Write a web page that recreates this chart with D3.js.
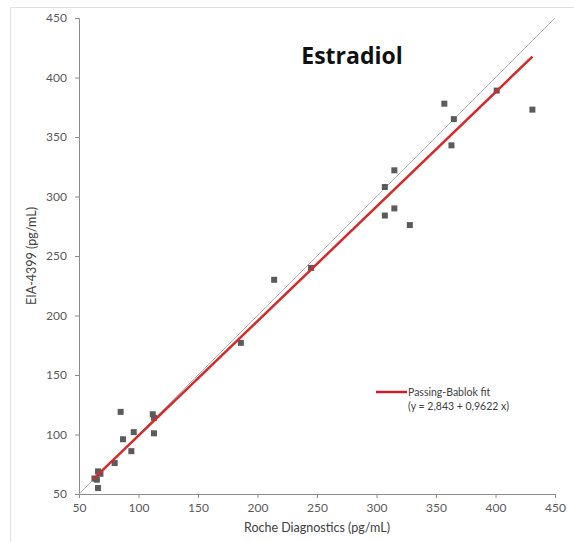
<!doctype html>
<html>
<head>
<meta charset="utf-8">
<title>Estradiol</title>
<style>
  body { margin: 0; background: #fff; }
  svg { display: block; font-family: Lato, "Open Sans", sans-serif; }
</style>
</head>
<body>
<svg width="574" height="542"></svg>
<script src="https://cdn.jsdelivr.net/npm/d3@7"></script>
<script>
// Roche Diagnostics (x) vs EIA-4399 (y), pg/mL
var rocheValues = [85, 112, 113, 96, 87, 113, 94, 80, 66, 68, 63, 65, 66,
                   186, 214, 245, 307, 315, 307, 315, 328, 357, 365, 363, 401, 431];
var eiaValues   = [119, 117, 114, 102, 96, 101, 86, 76, 69, 67, 63, 62, 55,
                   177, 230, 240, 308, 322, 284, 290, 276, 378, 365, 343, 389, 373];
var axisTicks = [50, 100, 150, 200, 250, 300, 350, 400, 450];
var fitIntercept = 2.843, fitSlope = 0.9622;
var fitRange = [62, 431];

var svg = d3.select("svg"),
    margin = {left: 79, right: 19, top: 18, bottom: 48},
    width = +svg.attr("width") - margin.left - margin.right,
    height = +svg.attr("height") - margin.top - margin.bottom;

// light frame round the chart area
svg.append("rect")
    .attr("x", 10.5).attr("y", 7.5)
    .attr("width", 600).attr("height", 600)
    .attr("fill", "none").attr("stroke", "#e2e2e2");

var x = d3.scaleLinear().domain([50, 450]).range([margin.left, margin.left + width]);
var y = d3.scaleLinear().domain([50, 450]).range([margin.top + height, margin.top]);

var xAxis = svg.append("g")
    .attr("transform", "translate(0," + (margin.top + height) + ")")
    .call(d3.axisBottom(x).tickValues(axisTicks).tickSizeOuter(0).tickSize(4).tickPadding(5));
var yAxis = svg.append("g")
    .attr("transform", "translate(" + margin.left + ",0)")
    .call(d3.axisLeft(y).tickValues(axisTicks).tickSizeOuter(0).tickSize(4).tickPadding(8));

[xAxis, yAxis].forEach(function(a) {
  a.select(".domain").attr("stroke", "#8c8c8c");
  a.selectAll(".tick line").attr("stroke", "#8c8c8c");
  a.selectAll(".tick text")
    .attr("fill", "#595959")
    .style("font-size", "12px")
    .style("font-family", "Lato, sans-serif");
});

// identity line
svg.append("line")
    .attr("x1", x(50)).attr("y1", y(50))
    .attr("x2", x(450)).attr("y2", y(450))
    .attr("stroke", "#b4b4b4").attr("stroke-width", 1);

// points
svg.append("g").selectAll("rect")
  .data(d3.range(rocheValues.length))
  .enter().append("rect")
    .attr("x", function(i) { return x(rocheValues[i]) - 3; })
    .attr("y", function(i) { return y(eiaValues[i]) - 3; })
    .attr("width", 6).attr("height", 6)
    .attr("fill", "#5b5b5b");

// Passing-Bablok fit
var fit = d3.line()
    .x(function(d) { return x(d); })
    .y(function(d) { return y(fitIntercept + fitSlope * d); });
svg.append("path")
    .datum(fitRange)
    .attr("d", fit)
    .attr("fill", "none")
    .attr("stroke", "#d42a2a")
    .attr("stroke-width", 2.5);

// title
svg.append("text")
    .attr("x", 352).attr("y", 64)
    .attr("text-anchor", "middle")
    .style("font-size", "23px")
    .style("font-weight", "bold")
    .style("font-family", "'Open Sans', sans-serif")
    .attr("fill", "#111")
    .text("Estradiol");

// legend
svg.append("line")
    .attr("x1", 376).attr("x2", 407)
    .attr("y1", 392).attr("y2", 392)
    .attr("stroke", "#c8202a").attr("stroke-width", 2.5);
svg.append("text")
    .attr("x", 408).attr("y", 396)
    .attr("fill", "#404040")
    .style("font-size", "10.5px")
    .text("Passing-Bablok fit");
svg.append("text")
    .attr("x", 408).attr("y", 410)
    .attr("fill", "#404040")
    .style("font-size", "10.5px")
    .text("(y = 2,843 + 0,9622 x)");

// axis titles
svg.append("text")
    .attr("x", x(250)).attr("y", 532)
    .attr("text-anchor", "middle")
    .attr("fill", "#404040")
    .style("font-size", "12.5px")
    .text("Roche Diagnostics (pg/mL)");
svg.append("text")
    .attr("transform", "translate(36," + y(250) + ") rotate(-90)")
    .attr("text-anchor", "middle")
    .attr("fill", "#404040")
    .style("font-size", "12.5px")
    .text("EIA-4399 (pg/mL)");
</script>
</body>
</html>
